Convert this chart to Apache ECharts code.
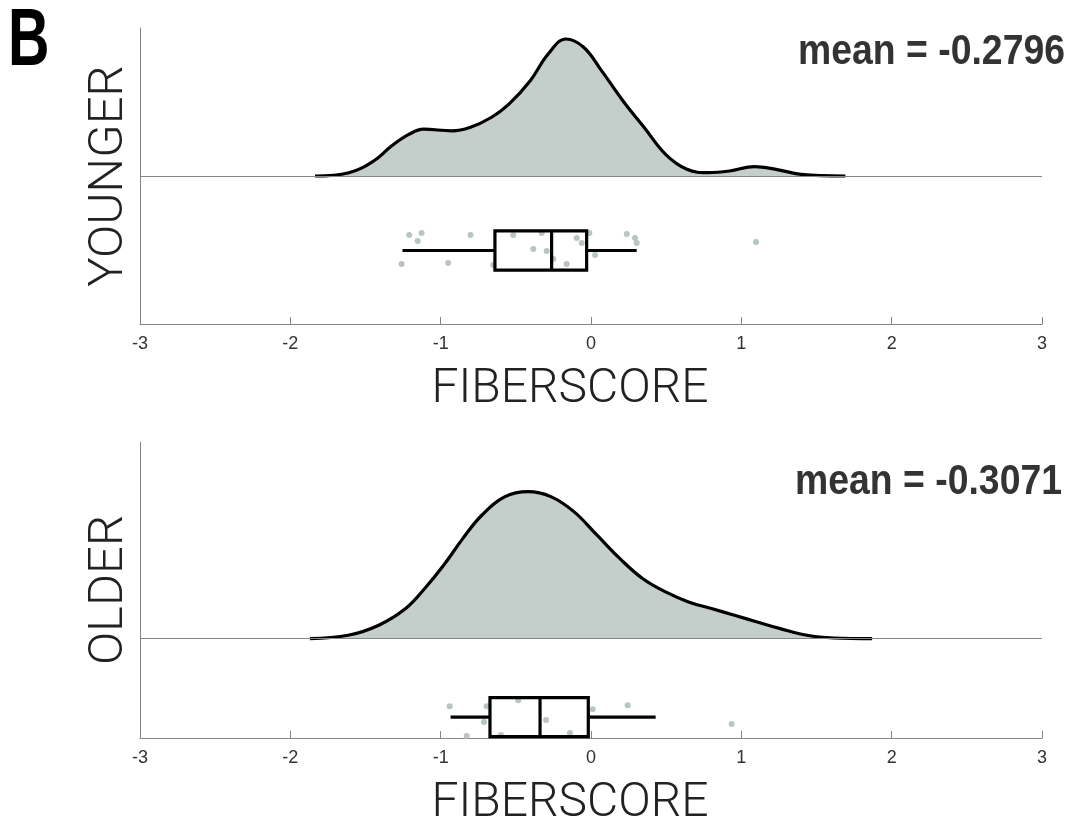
<!DOCTYPE html>
<html><head><meta charset="utf-8">
<script src="https://cdn.jsdelivr.net/npm/echarts@6/dist/echarts.min.js"></script>
<style>html,body{margin:0;padding:0;background:#fff}#c{width:1073px;height:829px}</style>
</head><body><div id="c"></div>
<script>
// ---------- data ----------
const xTicks = [-3, -2, -1, 0, 1, 2, 3];
const groupNames = ['YOUNGER', 'OLDER'];
const meanLabels = ['mean = -0.2796', 'mean = -0.3071'];

// kernel density curves (x, density)
const youngerDensX = [-1.836,-1.611,-1.446,-1.327,-1.209,-1.114,-0.925,-0.806,-0.664,-0.546,-0.404,-0.285,-0.167,-0.049,0.070,0.212,0.354,0.496,0.638,0.780,0.922,1.088,1.230,1.396,1.692];
const youngerDensY = [0,0.033,0.15,0.30,0.418,0.468,0.452,0.485,0.585,0.719,0.953,1.22,1.37,1.288,1.054,0.753,0.485,0.217,0.067,0.033,0.05,0.094,0.067,0.017,0];
const olderDensX = [-1.870,-1.615,-1.412,-1.233,-1.106,-0.979,-0.852,-0.725,-0.572,-0.419,-0.267,-0.114,0.039,0.191,0.343,0.496,0.649,0.801,0.954,1.106,1.259,1.437,1.616,1.870];
const olderDensY = [0,0.034,0.135,0.303,0.505,0.741,1.01,1.245,1.43,1.48,1.43,1.279,1.044,0.808,0.606,0.471,0.37,0.303,0.236,0.168,0.101,0.034,0.007,0];

// box plot stats: [whisker low, Q1, median, Q3, whisker high]
const youngerBox = [-1.254, -0.639, -0.262, -0.029, 0.304];
const olderBox = [-0.934, -0.672, -0.339, -0.018, 0.43];

// individual scores and their vertical jitter
const youngerScores = [-1.209,-1.127,-1.153,-1.260,-0.950,-0.801,-0.517,-0.384,-0.328,-0.295,-0.251,-0.162,-0.095,-0.062,-0.011,0.027,0.238,0.293,0.304,-0.650,1.098];
const youngerJitter = [-0.59,-0.57,-0.65,-0.88,-0.87,-0.59,-0.59,-0.73,-0.57,-0.75,-0.83,-0.88,-0.62,-0.67,-0.57,-0.79,-0.58,-0.62,-0.67,-0.89,-0.66];
const olderScores = [-0.94,-0.694,-0.712,-0.827,-0.484,-0.599,-0.299,-0.140,0.011,0.244,0.936];
const olderJitter = [-0.68,-0.68,-0.84,-0.98,-0.62,-0.97,-0.82,-0.95,-0.71,-0.67,-0.86];

// ---------- chart ----------
const zip = (a, b) => a.map((v, i) => [v, b[i]]);
const lightFont = 'Roboto';
const grids = [
  { left: 140, width: 902, top: 28, height: 296 },
  { left: 140, width: 902, top: 442, height: 298 }
];
const yRanges = [[-1.48, 1.48], [-1, 1.98]];
const boxRow = [-0.745, -0.79];
const boxHalf = 0.197;

function xAxis(i) {
  return {
    gridIndex: i, type: 'value', min: xTicks[0], max: xTicks[xTicks.length - 1], interval: 1,
    axisLine: { onZero: false, lineStyle: { color: '#858585', width: 1 } },
    axisTick: { inside: true, length: 7, lineStyle: { color: '#858585' } },
    axisLabel: { color: '#333', fontSize: 18, margin: 11, fontFamily: 'Liberation Sans' },
    splitLine: { show: false },
    name: 'FIBERSCORE', nameLocation: 'middle', nameGap: 42,
    nameTextStyle: { fontFamily: lightFont, fontWeight: 300, fontSize: 48, color: '#222', padding: [0, 42, 0, 0] }
  };
}
function yAxis(i) {
  return {
    gridIndex: i, type: 'value', min: yRanges[i][0], max: yRanges[i][1],
    axisLine: { show: true, onZero: false, lineStyle: { color: '#858585', width: 1 } },
    axisTick: { show: false }, axisLabel: { show: false }, splitLine: { show: false },
    name: groupNames[i], nameLocation: 'middle', nameGap: 6,
    nameTextStyle: { fontFamily: lightFont, fontWeight: 300, fontSize: 49, color: '#222' }
  };
}
function densSeries(i, xs, ys) {
  return {
    type: 'line', xAxisIndex: i, yAxisIndex: i, data: zip(xs, ys), smooth: 0.4, symbol: 'none', z: 3,
    lineStyle: { color: '#000', width: 3.2 },
    areaStyle: { color: '#c4cfcc', opacity: 1 },
    markLine: { silent: true, symbol: 'none', label: { show: false },
      lineStyle: { color: '#858585', width: 1, type: 'solid' }, data: [{ yAxis: 0 }] }
  };
}
function scatterSeries(i, xs, ys) {
  return { type: 'scatter', xAxisIndex: i, yAxisIndex: i, data: zip(xs, ys), symbolSize: 6, z: 2,
    itemStyle: { color: '#b0bfb9', opacity: 0.9 } };
}
function boxSeries(i, stats) {
  const yc = boxRow[i];
  return {
    type: 'custom', xAxisIndex: i, yAxisIndex: i, data: [stats], z: 6,
    renderItem: function (params, api) {
      const v = k => api.value(k);
      const lo = api.coord([v(0), yc]), q1c = api.coord([v(1), yc]), q3c = api.coord([v(3), yc]), hi = api.coord([v(4), yc]);
      const tl = api.coord([v(1), yc + boxHalf]), br = api.coord([v(3), yc - boxHalf]);
      const mt = api.coord([v(2), yc + boxHalf]), mb = api.coord([v(2), yc - boxHalf]);
      const st = { stroke: '#000', lineWidth: 3.2, fill: null };
      return { type: 'group', children: [
        { type: 'line', shape: { x1: lo[0], y1: lo[1], x2: q1c[0], y2: q1c[1] }, style: st },
        { type: 'line', shape: { x1: q3c[0], y1: q3c[1], x2: hi[0], y2: hi[1] }, style: st },
        { type: 'rect', shape: { x: tl[0], y: tl[1], width: br[0] - tl[0], height: br[1] - tl[1] }, style: st },
        { type: 'line', shape: { x1: mt[0], y1: mt[1], x2: mb[0], y2: mb[1] }, style: st }
      ] };
    }
  };
}

const chart = echarts.init(document.getElementById('c'), null, { renderer: 'canvas' });
chart.setOption({
  animation: false,
  grid: grids,
  xAxis: [xAxis(0), xAxis(1)],
  yAxis: [yAxis(0), yAxis(1)],
  series: [
    densSeries(0, youngerDensX, youngerDensY),
    scatterSeries(0, youngerScores, youngerJitter),
    boxSeries(0, youngerBox),
    densSeries(1, olderDensX, olderDensY),
    scatterSeries(1, olderScores, olderJitter),
    boxSeries(1, olderBox)
  ],
  graphic: [
    { type: 'text', left: 8, top: 1, scaleX: 0.7, style: { text: 'B', fontFamily: 'Liberation Sans', fontWeight: 'bold', fontSize: 82, fill: '#000' } },
    { type: 'text', x: 1065, y: 52, scaleX: 0.89, style: { text: meanLabels[0], align: 'right', verticalAlign: 'middle', fontFamily: 'Liberation Sans', fontWeight: 'bold', fontSize: 42, fill: '#333' } },
    { type: 'text', x: 1062, y: 482, scaleX: 0.89, style: { text: meanLabels[1], align: 'right', verticalAlign: 'middle', fontFamily: 'Liberation Sans', fontWeight: 'bold', fontSize: 42, fill: '#333' } }
  ]
});
</script></body></html>
